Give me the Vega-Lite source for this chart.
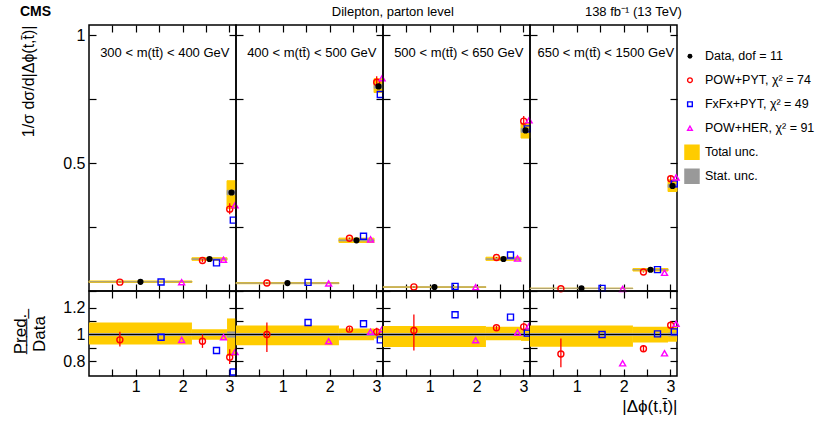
{
  "$schema": "https://vega.github.io/schema/vega-lite/v6.json",
  "autosize": {"type": "pad"},
  "padding": {"left": 10, "top": 4, "right": 0, "bottom": 0},
  "background": "white",
  "config": {
    "font": "Liberation Sans",
    "view": {"stroke": "#000000", "strokeWidth": 1.5},
    "axis": {"grid": false, "domain": false, "ticks": true, "tickSize": -7, "tickColor": "#000000", "tickWidth": 1.2, "labelOverlap": false, "labelColor": "#000000", "labelFontSize": 16, "labelFont": "Liberation Sans", "titleFont": "Liberation Sans", "titleColor": "#000000", "titleFontWeight": "normal"},
    "title": {"font": "Liberation Sans", "color": "#000000", "fontWeight": "normal", "fontSize": 13}
  },
  "datasets": {
    "rows": [
      {"p": 1, "b": 1, "m": "Data", "x": 1.1, "y": 0.036, "lo": 0, "hi": 2.2, "tlo": 0.0333, "thi": 0.0392, "slo": 0.0356, "shi": 0.0364, "rtlo": 0.926, "rthi": 1.089, "rslo": 0.988, "rshi": 1.012},
      {"p": 1, "b": 2, "m": "Data", "x": 2.575, "y": 0.125, "lo": 2.2, "hi": 2.95, "tlo": 0.12, "thi": 0.13, "slo": 0.1235, "shi": 0.1265, "rtlo": 0.96, "rthi": 1.04, "rslo": 0.988, "rshi": 1.012},
      {"p": 1, "b": 3, "m": "Data", "x": 3.046, "y": 0.385, "lo": 2.95, "hi": 3.1416, "tlo": 0.323, "thi": 0.431, "slo": 0.376, "shi": 0.394, "rtlo": 0.84, "rthi": 1.12, "rslo": 0.977, "rshi": 1.023},
      {"p": 1, "b": 1, "m": "POW+PYT", "x": 0.66, "y": 0.0346, "ylo": 0.0328, "yhi": 0.0367, "r": 0.96, "rlo": 0.91, "rhi": 1.02},
      {"p": 1, "b": 2, "m": "POW+PYT", "x": 2.425, "y": 0.119, "ylo": 0.1125, "yhi": 0.125, "r": 0.95, "rlo": 0.9, "rhi": 1.0},
      {"p": 1, "b": 3, "m": "POW+PYT", "x": 3.007, "y": 0.32, "ylo": 0.3, "yhi": 0.343, "r": 0.83, "rlo": 0.78, "rhi": 0.89},
      {"p": 1, "b": 1, "m": "FxFx+PYT", "x": 1.54, "y": 0.0353, "r": 0.98},
      {"p": 1, "b": 2, "m": "FxFx+PYT", "x": 2.725, "y": 0.11, "r": 0.88},
      {"p": 1, "b": 3, "m": "FxFx+PYT", "x": 3.084, "y": 0.277, "r": 0.72},
      {"p": 1, "b": 1, "m": "POW+HER", "x": 1.98, "y": 0.0346, "r": 0.96},
      {"p": 1, "b": 2, "m": "POW+HER", "x": 2.875, "y": 0.1225, "r": 0.98},
      {"p": 1, "b": 3, "m": "POW+HER", "x": 3.122, "y": 0.335, "r": 0.87},

      {"p": 2, "b": 1, "m": "Data", "x": 1.1, "y": 0.031, "lo": 0, "hi": 2.2, "tlo": 0.0285, "thi": 0.0331, "slo": 0.0306, "shi": 0.0314, "rtlo": 0.92, "rthi": 1.068, "rslo": 0.988, "rshi": 1.012},
      {"p": 2, "b": 2, "m": "Data", "x": 2.575, "y": 0.198, "lo": 2.2, "hi": 2.95, "tlo": 0.1897, "thi": 0.2067, "slo": 0.1955, "shi": 0.2005, "rtlo": 0.958, "rthi": 1.044, "rslo": 0.988, "rshi": 1.012},
      {"p": 2, "b": 3, "m": "Data", "x": 3.046, "y": 0.8, "lo": 2.95, "hi": 3.1416, "tlo": 0.776, "thi": 0.83, "slo": 0.792, "shi": 0.808, "rtlo": 0.97, "rthi": 1.038, "rslo": 0.99, "rshi": 1.01},
      {"p": 2, "b": 1, "m": "POW+PYT", "x": 0.66, "y": 0.031, "ylo": 0.027, "yhi": 0.0338, "r": 1.0, "rlo": 0.87, "rhi": 1.09},
      {"p": 2, "b": 2, "m": "POW+PYT", "x": 2.425, "y": 0.206, "ylo": 0.203, "yhi": 0.209, "r": 1.04, "rlo": 1.025, "rhi": 1.055},
      {"p": 2, "b": 3, "m": "POW+PYT", "x": 3.007, "y": 0.816, "ylo": 0.792, "yhi": 0.84, "r": 1.02, "rlo": 0.99, "rhi": 1.05},
      {"p": 2, "b": 1, "m": "FxFx+PYT", "x": 1.54, "y": 0.0338, "r": 1.09},
      {"p": 2, "b": 2, "m": "FxFx+PYT", "x": 2.725, "y": 0.214, "r": 1.08},
      {"p": 2, "b": 3, "m": "FxFx+PYT", "x": 3.084, "y": 0.768, "r": 0.96},
      {"p": 2, "b": 1, "m": "POW+HER", "x": 1.98, "y": 0.0295, "r": 0.95},
      {"p": 2, "b": 2, "m": "POW+HER", "x": 2.875, "y": 0.202, "r": 1.02},
      {"p": 2, "b": 3, "m": "POW+HER", "x": 3.122, "y": 0.832, "r": 1.04},

      {"p": 3, "b": 1, "m": "Data", "x": 1.1, "y": 0.0156, "lo": 0, "hi": 2.2, "tlo": 0.0141, "thi": 0.0166, "slo": 0.0154, "shi": 0.0158, "rtlo": 0.906, "rthi": 1.064, "rslo": 0.988, "rshi": 1.012},
      {"p": 3, "b": 2, "m": "Data", "x": 2.575, "y": 0.125, "lo": 2.2, "hi": 2.95, "tlo": 0.1198, "thi": 0.1321, "slo": 0.1235, "shi": 0.1265, "rtlo": 0.958, "rthi": 1.057, "rslo": 0.988, "rshi": 1.012},
      {"p": 3, "b": 3, "m": "Data", "x": 3.046, "y": 0.628, "lo": 2.95, "hi": 3.1416, "tlo": 0.598, "thi": 0.656, "slo": 0.62, "shi": 0.636, "rtlo": 0.952, "rthi": 1.045, "rslo": 0.988, "rshi": 1.012},
      {"p": 3, "b": 1, "m": "POW+PYT", "x": 0.66, "y": 0.0161, "ylo": 0.0137, "yhi": 0.018, "r": 1.03, "rlo": 0.88, "rhi": 1.15},
      {"p": 3, "b": 2, "m": "POW+PYT", "x": 2.425, "y": 0.131, "ylo": 0.129, "yhi": 0.133, "r": 1.05, "rlo": 1.035, "rhi": 1.065},
      {"p": 3, "b": 3, "m": "POW+PYT", "x": 3.007, "y": 0.664, "ylo": 0.647, "yhi": 0.684, "r": 1.057, "rlo": 1.03, "rhi": 1.09},
      {"p": 3, "b": 1, "m": "FxFx+PYT", "x": 1.54, "y": 0.0179, "r": 1.148},
      {"p": 3, "b": 2, "m": "FxFx+PYT", "x": 2.725, "y": 0.141, "r": 1.13},
      {"p": 3, "b": 3, "m": "FxFx+PYT", "x": 3.084, "y": 0.634, "r": 1.01},
      {"p": 3, "b": 1, "m": "POW+HER", "x": 1.98, "y": 0.015, "r": 0.958},
      {"p": 3, "b": 2, "m": "POW+HER", "x": 2.875, "y": 0.127, "r": 1.015},
      {"p": 3, "b": 3, "m": "POW+HER", "x": 3.122, "y": 0.668, "r": 1.064},

      {"p": 4, "b": 1, "m": "Data", "x": 1.1, "y": 0.0104, "lo": 0, "hi": 2.2, "tlo": 0.00945, "thi": 0.0111, "slo": 0.0103, "shi": 0.0105, "rtlo": 0.909, "rthi": 1.067, "rslo": 0.988, "rshi": 1.012},
      {"p": 4, "b": 2, "m": "Data", "x": 2.575, "y": 0.083, "lo": 2.2, "hi": 2.95, "tlo": 0.0781, "thi": 0.0877, "slo": 0.082, "shi": 0.084, "rtlo": 0.941, "rthi": 1.057, "rslo": 0.988, "rshi": 1.012},
      {"p": 4, "b": 3, "m": "Data", "x": 3.046, "y": 0.411, "lo": 2.95, "hi": 3.1416, "tlo": 0.389, "thi": 0.435, "slo": 0.405, "shi": 0.417, "rtlo": 0.946, "rthi": 1.058, "rslo": 0.986, "rshi": 1.014},
      {"p": 4, "b": 1, "m": "POW+PYT", "x": 0.66, "y": 0.0089, "ylo": 0.0079, "yhi": 0.0101, "r": 0.854, "rlo": 0.756, "rhi": 0.97},
      {"p": 4, "b": 2, "m": "POW+PYT", "x": 2.425, "y": 0.074, "ylo": 0.072, "yhi": 0.0765, "r": 0.894, "rlo": 0.87, "rhi": 0.92},
      {"p": 4, "b": 3, "m": "POW+PYT", "x": 3.007, "y": 0.439, "ylo": 0.427, "yhi": 0.452, "r": 1.069, "rlo": 1.04, "rhi": 1.1},
      {"p": 4, "b": 1, "m": "FxFx+PYT", "x": 1.54, "y": 0.0104, "r": 1.0},
      {"p": 4, "b": 2, "m": "FxFx+PYT", "x": 2.725, "y": 0.0834, "r": 1.005},
      {"p": 4, "b": 3, "m": "FxFx+PYT", "x": 3.084, "y": 0.419, "r": 1.02},
      {"p": 4, "b": 1, "m": "POW+HER", "x": 1.98, "y": 0.0082, "r": 0.785},
      {"p": 4, "b": 2, "m": "POW+HER", "x": 2.875, "y": 0.0714, "r": 0.86},
      {"p": 4, "b": 3, "m": "POW+HER", "x": 3.122, "y": 0.444, "r": 1.08}
    ],
    "labels": [
      {"p": 1, "label": "300 < m(tt̄) < 400 GeV"},
      {"p": 2, "label": "400 < m(tt̄) < 500 GeV"},
      {"p": 3, "label": "500 < m(tt̄) < 650 GeV"},
      {"p": 4, "label": "650 < m(tt̄) < 1500 GeV"}
    ],
    "legend": [
      {"k": 0, "m": "Data", "label": "Data, dof = 11"},
      {"k": 1, "m": "POW+PYT", "label": "POW+PYT, χ² = 74"},
      {"k": 2, "m": "FxFx+PYT", "label": "FxFx+PYT, χ² = 49"},
      {"k": 3, "m": "POW+HER", "label": "POW+HER, χ² = 91"},
      {"k": 4, "m": "Total", "label": "Total unc."},
      {"k": 5, "m": "Stat", "label": "Stat. unc."}
    ]
  },
  "columns": 5,
  "bounds": "flush",
  "align": "each",
  "spacing": 0,
  "concat": [
    {
      "width": 147, "height": 266,
      "data": {"name": "rows"},
      "transform": [{"filter": "datum.p == 1"}],
      "title": {"text": "CMS", "anchor": "start", "fontSize": 14, "fontWeight": "bold", "offset": 5},
      "resolve": {"axis": {"x": "independent", "y": "independent"}},
      "layer": [
        {"transform": [{"filter": "datum.m == 'Data'"}],
         "mark": {"type": "rect", "fill": "#ffcc00", "stroke": "#ffcc00", "strokeWidth": 1},
         "encoding": {
           "x": {"field": "lo", "type": "quantitative", "scale": {"domain": [0, 3.1416], "nice": false, "zero": false},
                 "axis": {"orient": "bottom", "values": [0.5, 1, 1.5, 2, 2.5, 3], "labels": false, "title": null}},
           "x2": {"field": "hi"},
           "y": {"field": "tlo", "type": "quantitative", "scale": {"domain": [0, 1.04], "nice": false, "zero": false},
                 "axis": {"orient": "left", "values": [0, 0.25, 0.5, 0.75, 1], "labelExpr": "datum.value == 1 ? '1' : datum.value == 0.5 ? '0.5' : ''", "labelPadding": 11,
                          "title": "1/σ dσ/d|Δϕ(t,t̄)|", "titleFontSize": 16, "titleAnchor": "end", "minExtent": 30, "maxExtent": 30, "titlePadding": 23}},
           "y2": {"field": "thi"}}},
        {"transform": [{"filter": "datum.m == 'Data'"}],
         "mark": {"type": "rect", "fill": "#999999", "stroke": "#999999", "strokeWidth": 0.6},
         "encoding": {
           "x": {"field": "lo", "type": "quantitative",
                 "axis": {"orient": "top", "values": [0.5, 1, 1.5, 2, 2.5, 3], "labels": false, "title": null}},
           "x2": {"field": "hi"},
           "y": {"field": "slo", "type": "quantitative",
                 "axis": {"orient": "right", "values": [0, 0.25, 0.5, 0.75, 1], "labels": false, "title": null}},
           "y2": {"field": "shi"}}},
        {"transform": [{"filter": "datum.m == 'POW+PYT'"}],
         "mark": {"type": "rule", "color": "#ff0000", "strokeWidth": 1.3},
         "encoding": {"x": {"field": "x", "type": "quantitative", "axis": null}, "y": {"field": "ylo", "type": "quantitative", "axis": null}, "y2": {"field": "yhi"}}},
        {"transform": [{"filter": "datum.m != 'Data'"}],
         "mark": {"type": "point", "filled": false, "strokeWidth": 1.4, "size": 36, "opacity": 1},
         "encoding": {
           "x": {"field": "x", "type": "quantitative", "axis": null},
           "y": {"field": "y", "type": "quantitative", "axis": null},
           "shape": {"field": "m", "type": "nominal", "legend": null, "scale": {"domain": ["Data", "POW+PYT", "FxFx+PYT", "POW+HER"], "range": ["circle", "circle", "square", "triangle-up"]}},
           "color": {"field": "m", "type": "nominal", "legend": null, "scale": {"domain": ["Data", "POW+PYT", "FxFx+PYT", "POW+HER", "Total", "Stat"], "range": ["#000000", "#ff0000", "#0000ff", "#ff00ff", "#ffcc00", "#999999"]}}}},
        {"transform": [{"filter": "datum.m == 'Data'"}],
         "mark": {"type": "circle", "color": "#000000", "size": 38, "opacity": 1},
         "encoding": {"x": {"field": "x", "type": "quantitative", "axis": null}, "y": {"field": "y", "type": "quantitative", "axis": null}}},
        {"data": {"name": "labels"},
         "transform": [{"filter": "datum.p == 1"}],
         "mark": {"type": "text", "fontSize": 13, "align": "center", "baseline": "middle"},
         "encoding": {"x": {"datum": 1.62, "type": "quantitative", "axis": null}, "y": {"datum": 0.93, "type": "quantitative", "axis": null}, "text": {"field": "label"}}}
      ]
    },
    {
      "width": 147, "height": 266,
      "data": {"name": "rows"},
      "transform": [{"filter": "datum.p == 2"}],
      "title": {"text": "Dilepton, parton level", "anchor": "end", "dx": 66, "fontSize": 13, "offset": 5},
      "resolve": {"axis": {"x": "independent", "y": "independent"}},
      "layer": [
        {"transform": [{"filter": "datum.m == 'Data'"}],
         "mark": {"type": "rect", "fill": "#ffcc00", "stroke": "#ffcc00", "strokeWidth": 1},
         "encoding": {
           "x": {"field": "lo", "type": "quantitative", "scale": {"domain": [0, 3.1416], "nice": false, "zero": false},
                 "axis": {"orient": "bottom", "values": [0.5, 1, 1.5, 2, 2.5, 3], "labels": false, "title": null}},
           "x2": {"field": "hi"},
           "y": {"field": "tlo", "type": "quantitative", "scale": {"domain": [0, 1.04], "nice": false, "zero": false},
                 "axis": {"orient": "left", "values": [0, 0.25, 0.5, 0.75, 1], "labels": false, "title": null}},
           "y2": {"field": "thi"}}},
        {"transform": [{"filter": "datum.m == 'Data'"}],
         "mark": {"type": "rect", "fill": "#999999", "stroke": "#999999", "strokeWidth": 0.6},
         "encoding": {
           "x": {"field": "lo", "type": "quantitative",
                 "axis": {"orient": "top", "values": [0.5, 1, 1.5, 2, 2.5, 3], "labels": false, "title": null}},
           "x2": {"field": "hi"},
           "y": {"field": "slo", "type": "quantitative",
                 "axis": {"orient": "right", "values": [0, 0.25, 0.5, 0.75, 1], "labels": false, "title": null}},
           "y2": {"field": "shi"}}},
        {"transform": [{"filter": "datum.m == 'POW+PYT'"}],
         "mark": {"type": "rule", "color": "#ff0000", "strokeWidth": 1.3},
         "encoding": {"x": {"field": "x", "type": "quantitative", "axis": null}, "y": {"field": "ylo", "type": "quantitative", "axis": null}, "y2": {"field": "yhi"}}},
        {"transform": [{"filter": "datum.m != 'Data'"}],
         "mark": {"type": "point", "filled": false, "strokeWidth": 1.4, "size": 36, "opacity": 1},
         "encoding": {
           "x": {"field": "x", "type": "quantitative", "axis": null},
           "y": {"field": "y", "type": "quantitative", "axis": null},
           "shape": {"field": "m", "type": "nominal", "legend": null, "scale": {"domain": ["Data", "POW+PYT", "FxFx+PYT", "POW+HER"], "range": ["circle", "circle", "square", "triangle-up"]}},
           "color": {"field": "m", "type": "nominal", "legend": null, "scale": {"domain": ["Data", "POW+PYT", "FxFx+PYT", "POW+HER", "Total", "Stat"], "range": ["#000000", "#ff0000", "#0000ff", "#ff00ff", "#ffcc00", "#999999"]}}}},
        {"transform": [{"filter": "datum.m == 'Data'"}],
         "mark": {"type": "circle", "color": "#000000", "size": 38, "opacity": 1},
         "encoding": {"x": {"field": "x", "type": "quantitative", "axis": null}, "y": {"field": "y", "type": "quantitative", "axis": null}}},
        {"data": {"name": "labels"},
         "transform": [{"filter": "datum.p == 2"}],
         "mark": {"type": "text", "fontSize": 13, "align": "center", "baseline": "middle"},
         "encoding": {"x": {"datum": 1.62, "type": "quantitative", "axis": null}, "y": {"datum": 0.93, "type": "quantitative", "axis": null}, "text": {"field": "label"}}}
      ]
    },
    {
      "width": 147, "height": 266,
      "data": {"name": "rows"},
      "transform": [{"filter": "datum.p == 3"}],
      "resolve": {"axis": {"x": "independent", "y": "independent"}},
      "layer": [
        {"transform": [{"filter": "datum.m == 'Data'"}],
         "mark": {"type": "rect", "fill": "#ffcc00", "stroke": "#ffcc00", "strokeWidth": 1},
         "encoding": {
           "x": {"field": "lo", "type": "quantitative", "scale": {"domain": [0, 3.1416], "nice": false, "zero": false},
                 "axis": {"orient": "bottom", "values": [0.5, 1, 1.5, 2, 2.5, 3], "labels": false, "title": null}},
           "x2": {"field": "hi"},
           "y": {"field": "tlo", "type": "quantitative", "scale": {"domain": [0, 1.04], "nice": false, "zero": false},
                 "axis": {"orient": "left", "values": [0, 0.25, 0.5, 0.75, 1], "labels": false, "title": null}},
           "y2": {"field": "thi"}}},
        {"transform": [{"filter": "datum.m == 'Data'"}],
         "mark": {"type": "rect", "fill": "#999999", "stroke": "#999999", "strokeWidth": 0.6},
         "encoding": {
           "x": {"field": "lo", "type": "quantitative",
                 "axis": {"orient": "top", "values": [0.5, 1, 1.5, 2, 2.5, 3], "labels": false, "title": null}},
           "x2": {"field": "hi"},
           "y": {"field": "slo", "type": "quantitative",
                 "axis": {"orient": "right", "values": [0, 0.25, 0.5, 0.75, 1], "labels": false, "title": null}},
           "y2": {"field": "shi"}}},
        {"transform": [{"filter": "datum.m == 'POW+PYT'"}],
         "mark": {"type": "rule", "color": "#ff0000", "strokeWidth": 1.3},
         "encoding": {"x": {"field": "x", "type": "quantitative", "axis": null}, "y": {"field": "ylo", "type": "quantitative", "axis": null}, "y2": {"field": "yhi"}}},
        {"transform": [{"filter": "datum.m != 'Data'"}],
         "mark": {"type": "point", "filled": false, "strokeWidth": 1.4, "size": 36, "opacity": 1},
         "encoding": {
           "x": {"field": "x", "type": "quantitative", "axis": null},
           "y": {"field": "y", "type": "quantitative", "axis": null},
           "shape": {"field": "m", "type": "nominal", "legend": null, "scale": {"domain": ["Data", "POW+PYT", "FxFx+PYT", "POW+HER"], "range": ["circle", "circle", "square", "triangle-up"]}},
           "color": {"field": "m", "type": "nominal", "legend": null, "scale": {"domain": ["Data", "POW+PYT", "FxFx+PYT", "POW+HER", "Total", "Stat"], "range": ["#000000", "#ff0000", "#0000ff", "#ff00ff", "#ffcc00", "#999999"]}}}},
        {"transform": [{"filter": "datum.m == 'Data'"}],
         "mark": {"type": "circle", "color": "#000000", "size": 38, "opacity": 1},
         "encoding": {"x": {"field": "x", "type": "quantitative", "axis": null}, "y": {"field": "y", "type": "quantitative", "axis": null}}},
        {"data": {"name": "labels"},
         "transform": [{"filter": "datum.p == 3"}],
         "mark": {"type": "text", "fontSize": 13, "align": "center", "baseline": "middle"},
         "encoding": {"x": {"datum": 1.62, "type": "quantitative", "axis": null}, "y": {"datum": 0.93, "type": "quantitative", "axis": null}, "text": {"field": "label"}}}
      ]
    },
    {
      "width": 147, "height": 266,
      "data": {"name": "rows"},
      "transform": [{"filter": "datum.p == 4"}],
      "title": {"text": "138 fb⁻¹ (13 TeV)", "anchor": "end", "fontSize": 13, "offset": 5},
      "resolve": {"axis": {"x": "independent", "y": "independent"}},
      "layer": [
        {"transform": [{"filter": "datum.m == 'Data'"}],
         "mark": {"type": "rect", "fill": "#ffcc00", "stroke": "#ffcc00", "strokeWidth": 1},
         "encoding": {
           "x": {"field": "lo", "type": "quantitative", "scale": {"domain": [0, 3.1416], "nice": false, "zero": false},
                 "axis": {"orient": "bottom", "values": [0.5, 1, 1.5, 2, 2.5, 3], "labels": false, "title": null}},
           "x2": {"field": "hi"},
           "y": {"field": "tlo", "type": "quantitative", "scale": {"domain": [0, 1.04], "nice": false, "zero": false},
                 "axis": {"orient": "left", "values": [0, 0.25, 0.5, 0.75, 1], "labels": false, "title": null}},
           "y2": {"field": "thi"}}},
        {"transform": [{"filter": "datum.m == 'Data'"}],
         "mark": {"type": "rect", "fill": "#999999", "stroke": "#999999", "strokeWidth": 0.6},
         "encoding": {
           "x": {"field": "lo", "type": "quantitative",
                 "axis": {"orient": "top", "values": [0.5, 1, 1.5, 2, 2.5, 3], "labels": false, "title": null}},
           "x2": {"field": "hi"},
           "y": {"field": "slo", "type": "quantitative",
                 "axis": {"orient": "right", "values": [0, 0.25, 0.5, 0.75, 1], "labels": false, "title": null}},
           "y2": {"field": "shi"}}},
        {"transform": [{"filter": "datum.m == 'POW+PYT'"}],
         "mark": {"type": "rule", "color": "#ff0000", "strokeWidth": 1.3},
         "encoding": {"x": {"field": "x", "type": "quantitative", "axis": null}, "y": {"field": "ylo", "type": "quantitative", "axis": null}, "y2": {"field": "yhi"}}},
        {"transform": [{"filter": "datum.m != 'Data'"}],
         "mark": {"type": "point", "filled": false, "strokeWidth": 1.4, "size": 36, "opacity": 1},
         "encoding": {
           "x": {"field": "x", "type": "quantitative", "axis": null},
           "y": {"field": "y", "type": "quantitative", "axis": null},
           "shape": {"field": "m", "type": "nominal", "legend": null, "scale": {"domain": ["Data", "POW+PYT", "FxFx+PYT", "POW+HER"], "range": ["circle", "circle", "square", "triangle-up"]}},
           "color": {"field": "m", "type": "nominal", "legend": null, "scale": {"domain": ["Data", "POW+PYT", "FxFx+PYT", "POW+HER", "Total", "Stat"], "range": ["#000000", "#ff0000", "#0000ff", "#ff00ff", "#ffcc00", "#999999"]}}}},
        {"transform": [{"filter": "datum.m == 'Data'"}],
         "mark": {"type": "circle", "color": "#000000", "size": 38, "opacity": 1},
         "encoding": {"x": {"field": "x", "type": "quantitative", "axis": null}, "y": {"field": "y", "type": "quantitative", "axis": null}}},
        {"data": {"name": "labels"},
         "transform": [{"filter": "datum.p == 4"}],
         "mark": {"type": "text", "fontSize": 13, "align": "center", "baseline": "middle"},
         "encoding": {"x": {"datum": 1.62, "type": "quantitative", "axis": null}, "y": {"datum": 0.93, "type": "quantitative", "axis": null}, "text": {"field": "label"}}}
      ]
    },
    {
      "width": 144, "height": 266,
      "view": {"stroke": null},
      "data": {"name": "legend"},
      "layer": [
        {"transform": [{"filter": "datum.m == 'POW+PYT' || datum.m == 'FxFx+PYT' || datum.m == 'POW+HER'"}],
         "mark": {"type": "point", "filled": false, "strokeWidth": 1.4, "size": 22, "opacity": 1},
         "encoding": {
           "x": {"datum": 0.09, "type": "quantitative", "scale": {"domain": [0, 1], "nice": false, "zero": false}, "axis": null},
           "y": {"field": "k", "type": "quantitative", "scale": {"domain": [-1.3, 9.78], "reverse": true, "nice": false, "zero": false}, "axis": null},
           "shape": {"field": "m", "type": "nominal", "legend": null, "scale": {"domain": ["Data", "POW+PYT", "FxFx+PYT", "POW+HER"], "range": ["circle", "circle", "square", "triangle-up"]}},
           "color": {"field": "m", "type": "nominal", "legend": null, "scale": {"domain": ["Data", "POW+PYT", "FxFx+PYT", "POW+HER", "Total", "Stat"], "range": ["#000000", "#ff0000", "#0000ff", "#ff00ff", "#ffcc00", "#999999"]}}}},
        {"transform": [{"filter": "datum.m == 'Data'"}],
         "mark": {"type": "circle", "color": "#000000", "size": 24, "opacity": 1},
         "encoding": {
           "x": {"datum": 0.09, "type": "quantitative", "axis": null},
           "y": {"field": "k", "type": "quantitative", "axis": null}}},
        {"transform": [{"filter": "datum.m == 'Total' || datum.m == 'Stat'"}],
         "mark": {"type": "square", "size": 240, "opacity": 1},
         "encoding": {
           "x": {"datum": 0.104, "type": "quantitative", "axis": null},
           "y": {"field": "k", "type": "quantitative", "axis": null},
           "color": {"field": "m", "type": "nominal", "legend": null, "scale": {"domain": ["Data", "POW+PYT", "FxFx+PYT", "POW+HER", "Total", "Stat"], "range": ["#000000", "#ff0000", "#0000ff", "#ff00ff", "#ffcc00", "#999999"]}}}},
        {"mark": {"type": "text", "align": "left", "baseline": "middle", "fontSize": 12.5},
         "encoding": {
           "x": {"datum": 0.194, "type": "quantitative", "axis": null},
           "y": {"field": "k", "type": "quantitative", "axis": null},
           "text": {"field": "label"}}}
      ]
    },
    {
      "width": 147, "height": 85,
      "data": {"name": "rows"},
      "transform": [{"filter": "datum.p == 1"}],
      "resolve": {"axis": {"x": "independent", "y": "independent"}},
      "layer": [
        {"transform": [{"filter": "datum.m == 'Data'"}],
         "mark": {"type": "rect", "fill": "#ffcc00"},
         "encoding": {
           "x": {"field": "lo", "type": "quantitative", "scale": {"domain": [0, 3.1416], "nice": false, "zero": false},
                 "axis": {"orient": "bottom", "values": [0.5, 1, 1.5, 2, 2.5, 3], "labelExpr": "datum.value == 1 ? '1' : datum.value == 2 ? '2' : datum.value == 3 ? '3' : ''", "labelPadding": 9, "title": null}},
           "x2": {"field": "hi"},
           "y": {"field": "rtlo", "type": "quantitative", "scale": {"domain": [0.69, 1.325], "nice": false, "zero": false},
                 "axis": {"orient": "left", "values": [0.8, 0.9, 1, 1.1, 1.2], "labelExpr": "datum.value == 1 ? '1' : datum.value == 0.8 ? '0.8' : datum.value == 1.2 ? '1.2' : ''", "labelPadding": 11,
                          "title": ["P̲r̲e̲d̲.̲", "Data"], "titleFontSize": 17, "titleAnchor": "middle", "titleLineHeight": 19, "minExtent": 30, "maxExtent": 30, "titlePadding": 11}},
           "y2": {"field": "rthi"}}},
        {"transform": [{"filter": "datum.m == 'Data'"}],
         "mark": {"type": "rect", "fill": "#999999"},
         "encoding": {
           "x": {"field": "lo", "type": "quantitative",
                 "axis": {"orient": "top", "values": [0.5, 1, 1.5, 2, 2.5, 3], "labels": false, "title": null}},
           "x2": {"field": "hi"},
           "y": {"field": "rslo", "type": "quantitative",
                 "axis": {"orient": "right", "values": [0.8, 0.9, 1, 1.1, 1.2], "labels": false, "title": null}},
           "y2": {"field": "rshi"}}},
        {"transform": [{"filter": "datum.m == 'Data' && datum.b == 1"}],
         "mark": {"type": "rule", "color": "#000000", "strokeWidth": 1.2},
         "encoding": {"y": {"datum": 1, "type": "quantitative", "axis": null}}},
        {"transform": [{"filter": "datum.m == 'POW+PYT'"}],
         "mark": {"type": "rule", "color": "#ff0000", "strokeWidth": 1.3},
         "encoding": {"x": {"field": "x", "type": "quantitative", "axis": null}, "y": {"field": "rlo", "type": "quantitative", "axis": null}, "y2": {"field": "rhi"}}},
        {"transform": [{"filter": "datum.m != 'Data'"}],
         "mark": {"type": "point", "filled": false, "strokeWidth": 1.4, "size": 36, "opacity": 1},
         "encoding": {
           "x": {"field": "x", "type": "quantitative", "axis": null},
           "y": {"field": "r", "type": "quantitative", "axis": null},
           "shape": {"field": "m", "type": "nominal", "legend": null, "scale": {"domain": ["Data", "POW+PYT", "FxFx+PYT", "POW+HER"], "range": ["circle", "circle", "square", "triangle-up"]}},
           "color": {"field": "m", "type": "nominal", "legend": null, "scale": {"domain": ["Data", "POW+PYT", "FxFx+PYT", "POW+HER", "Total", "Stat"], "range": ["#000000", "#ff0000", "#0000ff", "#ff00ff", "#ffcc00", "#999999"]}}}}
      ]
    },
    {
      "width": 147, "height": 85,
      "data": {"name": "rows"},
      "transform": [{"filter": "datum.p == 2"}],
      "resolve": {"axis": {"x": "independent", "y": "independent"}},
      "layer": [
        {"transform": [{"filter": "datum.m == 'Data'"}],
         "mark": {"type": "rect", "fill": "#ffcc00"},
         "encoding": {
           "x": {"field": "lo", "type": "quantitative", "scale": {"domain": [0, 3.1416], "nice": false, "zero": false},
                 "axis": {"orient": "bottom", "values": [0.5, 1, 1.5, 2, 2.5, 3], "labelExpr": "datum.value == 1 ? '1' : datum.value == 2 ? '2' : datum.value == 3 ? '3' : ''", "labelPadding": 9, "title": null}},
           "x2": {"field": "hi"},
           "y": {"field": "rtlo", "type": "quantitative", "scale": {"domain": [0.69, 1.325], "nice": false, "zero": false},
                 "axis": {"orient": "left", "values": [0.8, 0.9, 1, 1.1, 1.2], "labels": false, "title": null}},
           "y2": {"field": "rthi"}}},
        {"transform": [{"filter": "datum.m == 'Data'"}],
         "mark": {"type": "rect", "fill": "#999999"},
         "encoding": {
           "x": {"field": "lo", "type": "quantitative",
                 "axis": {"orient": "top", "values": [0.5, 1, 1.5, 2, 2.5, 3], "labels": false, "title": null}},
           "x2": {"field": "hi"},
           "y": {"field": "rslo", "type": "quantitative",
                 "axis": {"orient": "right", "values": [0.8, 0.9, 1, 1.1, 1.2], "labels": false, "title": null}},
           "y2": {"field": "rshi"}}},
        {"transform": [{"filter": "datum.m == 'Data' && datum.b == 1"}],
         "mark": {"type": "rule", "color": "#000000", "strokeWidth": 1.2},
         "encoding": {"y": {"datum": 1, "type": "quantitative", "axis": null}}},
        {"transform": [{"filter": "datum.m == 'POW+PYT'"}],
         "mark": {"type": "rule", "color": "#ff0000", "strokeWidth": 1.3},
         "encoding": {"x": {"field": "x", "type": "quantitative", "axis": null}, "y": {"field": "rlo", "type": "quantitative", "axis": null}, "y2": {"field": "rhi"}}},
        {"transform": [{"filter": "datum.m != 'Data'"}],
         "mark": {"type": "point", "filled": false, "strokeWidth": 1.4, "size": 36, "opacity": 1},
         "encoding": {
           "x": {"field": "x", "type": "quantitative", "axis": null},
           "y": {"field": "r", "type": "quantitative", "axis": null},
           "shape": {"field": "m", "type": "nominal", "legend": null, "scale": {"domain": ["Data", "POW+PYT", "FxFx+PYT", "POW+HER"], "range": ["circle", "circle", "square", "triangle-up"]}},
           "color": {"field": "m", "type": "nominal", "legend": null, "scale": {"domain": ["Data", "POW+PYT", "FxFx+PYT", "POW+HER", "Total", "Stat"], "range": ["#000000", "#ff0000", "#0000ff", "#ff00ff", "#ffcc00", "#999999"]}}}}
      ]
    },
    {
      "width": 147, "height": 85,
      "data": {"name": "rows"},
      "transform": [{"filter": "datum.p == 3"}],
      "resolve": {"axis": {"x": "independent", "y": "independent"}},
      "layer": [
        {"transform": [{"filter": "datum.m == 'Data'"}],
         "mark": {"type": "rect", "fill": "#ffcc00"},
         "encoding": {
           "x": {"field": "lo", "type": "quantitative", "scale": {"domain": [0, 3.1416], "nice": false, "zero": false},
                 "axis": {"orient": "bottom", "values": [0.5, 1, 1.5, 2, 2.5, 3], "labelExpr": "datum.value == 1 ? '1' : datum.value == 2 ? '2' : datum.value == 3 ? '3' : ''", "labelPadding": 9, "title": null}},
           "x2": {"field": "hi"},
           "y": {"field": "rtlo", "type": "quantitative", "scale": {"domain": [0.69, 1.325], "nice": false, "zero": false},
                 "axis": {"orient": "left", "values": [0.8, 0.9, 1, 1.1, 1.2], "labels": false, "title": null}},
           "y2": {"field": "rthi"}}},
        {"transform": [{"filter": "datum.m == 'Data'"}],
         "mark": {"type": "rect", "fill": "#999999"},
         "encoding": {
           "x": {"field": "lo", "type": "quantitative",
                 "axis": {"orient": "top", "values": [0.5, 1, 1.5, 2, 2.5, 3], "labels": false, "title": null}},
           "x2": {"field": "hi"},
           "y": {"field": "rslo", "type": "quantitative",
                 "axis": {"orient": "right", "values": [0.8, 0.9, 1, 1.1, 1.2], "labels": false, "title": null}},
           "y2": {"field": "rshi"}}},
        {"transform": [{"filter": "datum.m == 'Data' && datum.b == 1"}],
         "mark": {"type": "rule", "color": "#000000", "strokeWidth": 1.2},
         "encoding": {"y": {"datum": 1, "type": "quantitative", "axis": null}}},
        {"transform": [{"filter": "datum.m == 'POW+PYT'"}],
         "mark": {"type": "rule", "color": "#ff0000", "strokeWidth": 1.3},
         "encoding": {"x": {"field": "x", "type": "quantitative", "axis": null}, "y": {"field": "rlo", "type": "quantitative", "axis": null}, "y2": {"field": "rhi"}}},
        {"transform": [{"filter": "datum.m != 'Data'"}],
         "mark": {"type": "point", "filled": false, "strokeWidth": 1.4, "size": 36, "opacity": 1},
         "encoding": {
           "x": {"field": "x", "type": "quantitative", "axis": null},
           "y": {"field": "r", "type": "quantitative", "axis": null},
           "shape": {"field": "m", "type": "nominal", "legend": null, "scale": {"domain": ["Data", "POW+PYT", "FxFx+PYT", "POW+HER"], "range": ["circle", "circle", "square", "triangle-up"]}},
           "color": {"field": "m", "type": "nominal", "legend": null, "scale": {"domain": ["Data", "POW+PYT", "FxFx+PYT", "POW+HER", "Total", "Stat"], "range": ["#000000", "#ff0000", "#0000ff", "#ff00ff", "#ffcc00", "#999999"]}}}}
      ]
    },
    {
      "width": 147, "height": 85,
      "data": {"name": "rows"},
      "transform": [{"filter": "datum.p == 4"}],
      "resolve": {"axis": {"x": "independent", "y": "independent"}},
      "layer": [
        {"transform": [{"filter": "datum.m == 'Data'"}],
         "mark": {"type": "rect", "fill": "#ffcc00"},
         "encoding": {
           "x": {"field": "lo", "type": "quantitative", "scale": {"domain": [0, 3.1416], "nice": false, "zero": false},
                 "axis": {"orient": "bottom", "values": [0.5, 1, 1.5, 2, 2.5, 3], "labelExpr": "datum.value == 1 ? '1' : datum.value == 2 ? '2' : datum.value == 3 ? '3' : ''", "labelPadding": 9,
                          "title": "|Δϕ(t,t̄)|", "titleFontSize": 17, "titleAnchor": "end", "titlePadding": 4}},
           "x2": {"field": "hi"},
           "y": {"field": "rtlo", "type": "quantitative", "scale": {"domain": [0.69, 1.325], "nice": false, "zero": false},
                 "axis": {"orient": "left", "values": [0.8, 0.9, 1, 1.1, 1.2], "labels": false, "title": null}},
           "y2": {"field": "rthi"}}},
        {"transform": [{"filter": "datum.m == 'Data'"}],
         "mark": {"type": "rect", "fill": "#999999"},
         "encoding": {
           "x": {"field": "lo", "type": "quantitative",
                 "axis": {"orient": "top", "values": [0.5, 1, 1.5, 2, 2.5, 3], "labels": false, "title": null}},
           "x2": {"field": "hi"},
           "y": {"field": "rslo", "type": "quantitative",
                 "axis": {"orient": "right", "values": [0.8, 0.9, 1, 1.1, 1.2], "labels": false, "title": null}},
           "y2": {"field": "rshi"}}},
        {"transform": [{"filter": "datum.m == 'Data' && datum.b == 1"}],
         "mark": {"type": "rule", "color": "#000000", "strokeWidth": 1.2},
         "encoding": {"y": {"datum": 1, "type": "quantitative", "axis": null}}},
        {"transform": [{"filter": "datum.m == 'POW+PYT'"}],
         "mark": {"type": "rule", "color": "#ff0000", "strokeWidth": 1.3},
         "encoding": {"x": {"field": "x", "type": "quantitative", "axis": null}, "y": {"field": "rlo", "type": "quantitative", "axis": null}, "y2": {"field": "rhi"}}},
        {"transform": [{"filter": "datum.m != 'Data'"}],
         "mark": {"type": "point", "filled": false, "strokeWidth": 1.4, "size": 36, "opacity": 1},
         "encoding": {
           "x": {"field": "x", "type": "quantitative", "axis": null},
           "y": {"field": "r", "type": "quantitative", "axis": null},
           "shape": {"field": "m", "type": "nominal", "legend": null, "scale": {"domain": ["Data", "POW+PYT", "FxFx+PYT", "POW+HER"], "range": ["circle", "circle", "square", "triangle-up"]}},
           "color": {"field": "m", "type": "nominal", "legend": null, "scale": {"domain": ["Data", "POW+PYT", "FxFx+PYT", "POW+HER", "Total", "Stat"], "range": ["#000000", "#ff0000", "#0000ff", "#ff00ff", "#ffcc00", "#999999"]}}}}
      ]
    }
  ]
}
